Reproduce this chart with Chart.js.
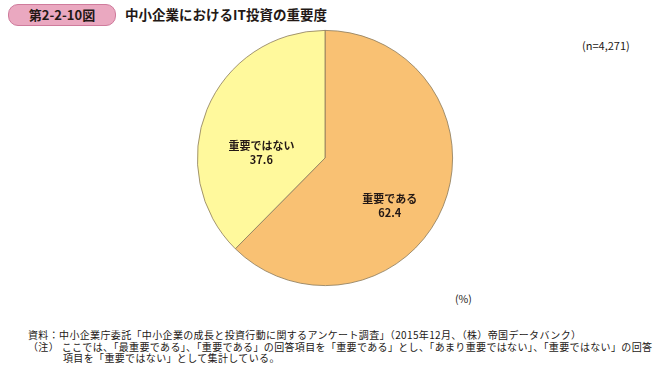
<!DOCTYPE html>
<html lang="ja">
<head>
<meta charset="UTF-8">
<title>中小企業におけるIT投資の重要度</title>
<script src="https://cdn.jsdelivr.net/npm/chart.js"></script>
<style>
    body {
        margin: 0;
        width: 655px;
        height: 366px;
        background: #ffffff;
        font-family: "Noto Sans CJK JP", "Noto Sans", sans-serif;
        color: #231815;
        position: relative;
        overflow: hidden;
    }
    .badge {
        position: absolute;
        left: 8px;
        top: 4px;
        width: 106px;
        height: 20px;
        background: #eaa8c0;
        border: 1px solid #cf7b9c;
        border-radius: 10px;
        font-size: 13px;
        line-height: 20px;
        text-align: center;
        font-weight: bold;
    }
    .title {
        position: absolute;
        left: 125px;
        top: 4px;
        font-size: 13.5px;
        line-height: 20px;
        font-weight: bold;
    }
    .n-label {
        position: absolute;
        left: 582px;
        top: 37px;
        font-size: 11px;
    }
    .unit {
        position: absolute;
        left: 455px;
        top: 291px;
        font-size: 10.5px;
    }
    .chart-box {
        position: absolute;
        left: 195px;
        top: 28px;
        width: 260px;
        height: 260px;
    }
    .note {
        position: absolute;
        left: 28px;
        font-size: 10px;
        line-height: 11px;
        letter-spacing: 0.35px;
        white-space: nowrap;
    }
</style>
</head>
<body>
    <div class="badge">第2-2-10図</div>
    <div class="title">中小企業におけるIT投資の重要度</div>
    <div class="n-label">(n=4,271)</div>
    <div class="unit">(%)</div>

    <div class="chart-box"><canvas id="pieChart"></canvas></div>

    <div class="note" style="top:329px;">資料：中小企業庁委託「中小企業の成長と投資行動に関するアンケート調査」（2015年12月、（株）帝国データバンク）</div>
    <div class="note" style="top:341px;">（注）&nbsp;ここでは、「最重要である」、「重要である」の回答項目を「重要である」とし、「あまり重要ではない」、「重要ではない」の回答</div>
    <div class="note" style="top:352px; left:63px;">項目を「重要ではない」として集計している。</div>

    <script>
        const categories = ['重要である', '重要ではない'];
        const shares = [62.4, 37.6];

        const sliceColors = ['#f9c173', '#fff99c'];
        // label placement per slice: angle shift (deg) from slice middle, radius fraction
        const labelShift = [14, -18];
        const labelRadius = [0.63, 0.5];

        const sliceLabels = {
            id: 'sliceLabels',
            afterDatasetsDraw(chart) {
                const ctx = chart.ctx;
                const meta = chart.getDatasetMeta(0);
                ctx.save();
                ctx.textAlign = 'center';
                ctx.textBaseline = 'middle';
                ctx.fillStyle = '#231815';
                ctx.font = 'bold 11px "Noto Sans CJK JP", sans-serif';
                meta.data.forEach((arc, i) => {
                    const p = arc.getProps(['x', 'y', 'startAngle', 'endAngle', 'outerRadius'], true);
                    const mid = (p.startAngle + p.endAngle) / 2 + labelShift[i] * Math.PI / 180;
                    const r = p.outerRadius * labelRadius[i];
                    const x = p.x + Math.cos(mid) * r;
                    const y = p.y + Math.sin(mid) * r;
                    ctx.fillText(categories[i], x, y - 7);
                    ctx.fillText(shares[i].toFixed(1), x, y + 7);
                });
                ctx.restore();
            }
        };

        new Chart(document.getElementById('pieChart').getContext('2d'), {
            type: 'pie',
            data: {
                labels: categories,
                datasets: [{
                    data: shares,
                    backgroundColor: sliceColors,
                    borderColor: '#8a7a5a',
                    borderWidth: 0.8
                }]
            },
            options: {
                responsive: true,
                maintainAspectRatio: false,
                animation: false,
                layout: { padding: 2 },
                plugins: {
                    legend: { display: false },
                    tooltip: { enabled: false }
                }
            },
            plugins: [sliceLabels]
        });
    </script>
</body>
</html>
